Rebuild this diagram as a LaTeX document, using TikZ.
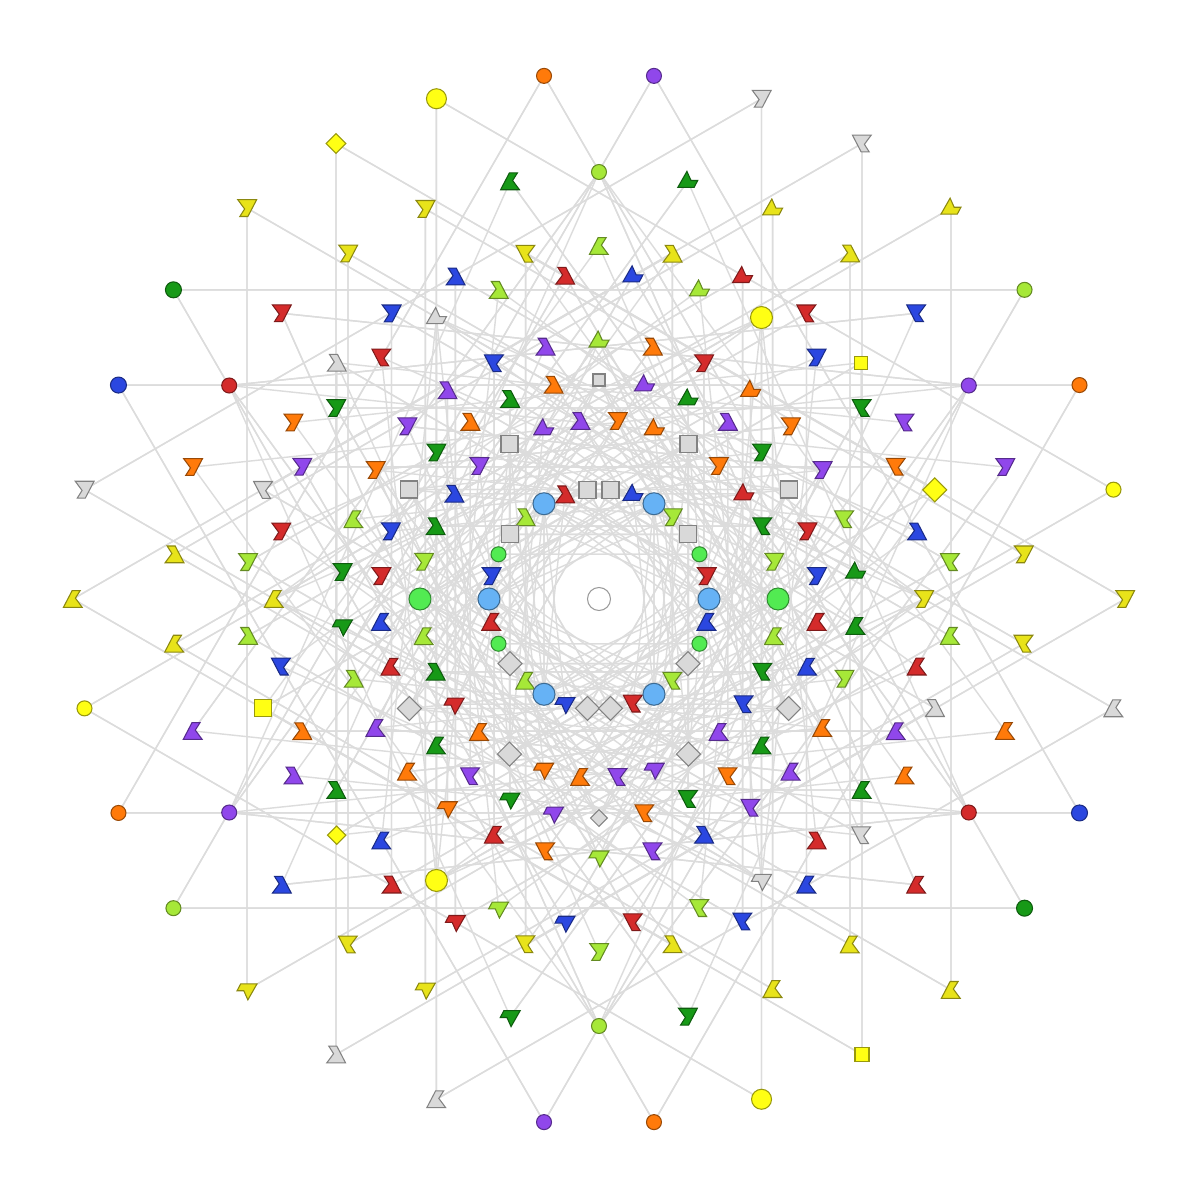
\documentclass[tikz,border=0pt]{standalone}
\definecolor{cYel}{HTML}{FFFF14}
\definecolor{cYef}{HTML}{E8E31A}
\definecolor{cOra}{HTML}{FF7A0A}
\definecolor{cPur}{HTML}{9047EB}
\definecolor{cGrn}{HTML}{179917}
\definecolor{cLim}{HTML}{A6E838}
\definecolor{cRed}{HTML}{D42B2B}
\definecolor{cBlu}{HTML}{2B47E0}
\definecolor{cGry}{HTML}{D9D9D9}
\definecolor{cLbl}{HTML}{66B2F5}
\definecolor{cBgr}{HTML}{52EB52}
\definecolor{cLine}{HTML}{DCDCDC}
\tikzset{
  flagA/.pic={\path[pic actions, scale=1.2] (-0.08,-0.07) -- (0.077,-0.07) -- (0.02,0.007) -- (0.06,0.07) -- (-0.007,0.07) -- cycle;},
  flagB/.pic={\path[pic actions, scale=1.2] (-0.007,0.083) -- (0.027,0.007) -- (0.083,0.007) -- (0.053,-0.05) -- (-0.083,-0.05) -- cycle;}
}
% ring/angle/axis/shape/colour/size/xscale/yscale
\def\rootlist{
1/0/0/3/cYef/0/-1/-1, 1/12/0/0/cYel/15/1/1, 1/24/30/0/cOra/15/1/1, 1/36/30/0/cLim/15/1/1,
1/48/0/4/cYef/0/1/1, 1/60/0/3/cGry/0/1/-1, 1/72/0/3/cGry/0/-1/-1, 1/84/90/0/cPur/15/1/1,
1/96/90/0/cOra/15/1/1, 1/108/0/0/cYel/20/1/1, 1/120/0/2/cYel/14/1/1, 1/132/0/3/cYef/0/-1/-1,
1/144/150/0/cGrn/16/1/1, 1/156/150/0/cBlu/16/1/1, 1/168/0/3/cGry/0/-1/-1,
2/6/0/3/cYef/0/-1/-1, 2/18/24/3/cPur/0/-1/-1, 2/30/24/0/cPur/15/1/1, 2/42/36/3/cBlu/0/1/-1,
2/54/0/3/cYef/0/-1/1, 2/66/0/4/cYef/0/1/1, 2/78/84/4/cGrn/0/1/1, 2/90/84/0/cLim/15/1/1,
2/102/96/3/cGrn/0/1/1, 2/114/0/3/cYef/0/-1/-1, 2/126/0/3/cYef/0/-1/-1, 2/138/144/3/cRed/0/-1/-1,
2/150/156/0/cRed/15/1/1, 2/162/156/3/cOra/0/-1/-1, 2/174/0/3/cYef/0/-1/1,
3/6/0/3/cLim/0/1/-1, 3/18/0/2/cYel/17/1/1, 3/30/24/3/cPur/0/1/-1, 3/42/0/1/cYel/13/1/1,
3/54/60/3/cRed/0/1/-1, 3/66/60/4/cRed/0/1/1, 3/78/0/3/cYef/0/-1/1, 3/90/84/3/cLim/0/1/1,
3/102/0/3/cYef/0/1/-1, 3/114/120/3/cBlu/0/-1/1, 3/126/120/3/cBlu/0/-1/-1, 3/138/0/3/cGry/0/-1/1,
3/150/156/3/cOra/0/-1/-1, 3/162/0/3/cGry/0/1/-1, 3/174/180/3/cLim/0/-1/-1,
4/0/0/3/cYef/0/-1/-1, 4/12/6/3/cBlu/0/-1/1, 4/24/30/3/cOra/0/1/-1, 4/36/30/3/cGrn/0/1/-1,
4/48/54/3/cBlu/0/-1/-1, 4/60/0/0/cYel/22/1/1, 4/72/66/4/cLim/0/1/1, 4/84/90/4/cBlu/0/1/1,
4/96/90/3/cRed/0/-1/1, 4/108/114/3/cLim/0/-1/1, 4/120/0/4/cGry/0/1/1, 4/132/126/3/cRed/0/1/-1,
4/144/150/3/cGrn/0/-1/-1, 4/156/150/3/cPur/0/-1/-1, 4/168/174/3/cRed/0/-1/-1,
5/6/0/4/cGrn/0/1/1, 5/18/24/3/cLim/0/1/-1, 5/30/24/3/cPur/0/-1/-1, 5/42/36/3/cOra/0/-1/-1,
5/54/60/4/cOra/0/1/1, 5/66/60/3/cRed/0/-1/-1, 5/78/84/3/cOra/0/-1/1, 5/90/84/4/cLim/0/1/1,
5/102/96/3/cPur/0/-1/1, 5/114/120/3/cBlu/0/1/-1, 5/126/120/3/cPur/0/-1/1, 5/138/144/3/cPur/0/-1/-1,
5/150/156/3/cOra/0/-1/-1, 5/162/156/3/cLim/0/1/1, 5/174/180/3/cGrn/0/-1/-1,
6/6/0/3/cBlu/0/-1/-1, 6/18/24/3/cRed/0/-1/-1, 6/30/30/1/cGry/17/1/1, 6/42/36/3/cGrn/0/-1/-1,
6/54/60/3/cPur/0/-1/1, 6/66/60/4/cGrn/0/1/1, 6/78/84/4/cPur/0/1/1, 6/90/30/1/cGry/12/1/1,
6/102/96/3/cOra/0/-1/1, 6/114/120/3/cGrn/0/-1/1, 6/126/120/3/cOra/0/-1/1, 6/138/144/3/cGrn/0/-1/-1,
6/150/30/1/cGry/17/1/1, 6/162/156/3/cBlu/0/-1/-1, 6/174/180/3/cRed/0/-1/-1,
7/0/0/0/cBgr/22/1/1, 7/12/6/3/cLim/0/-1/-1, 7/24/30/3/cGrn/0/1/-1, 7/36/30/4/cRed/0/1/1,
7/48/54/3/cOra/0/-1/-1, 7/60/0/1/cGry/17/1/1, 7/72/66/4/cOra/0/1/1, 7/84/90/3/cOra/0/-1/-1,
7/96/90/3/cPur/0/-1/1, 7/108/114/4/cPur/0/1/1, 7/120/0/1/cGry/17/1/1, 7/132/126/3/cPur/0/-1/-1,
7/144/150/3/cBlu/0/-1/1, 7/156/150/3/cGrn/0/-1/1, 7/168/174/3/cLim/0/-1/-1,
8/0/0/0/cLbl/22/1/1, 8/12/6/3/cRed/0/-1/-1, 8/24/30/0/cBgr/15/1/1, 8/36/30/1/cGry/17/1/1,
8/48/54/3/cLim/0/-1/-1, 8/60/0/0/cLbl/22/1/1, 8/72/66/4/cBlu/0/1/1, 8/84/30/1/cGry/17/1/1,
8/96/30/1/cGry/17/1/1, 8/108/114/3/cRed/0/-1/1, 8/120/0/0/cLbl/22/1/1, 8/132/126/3/cLim/0/-1/1,
8/144/30/1/cGry/17/1/1, 8/156/150/0/cBgr/15/1/1, 8/168/174/3/cBlu/0/-1/-1}
\begin{document}
\begin{tikzpicture}[
  chord/.style={draw=cLine, line width=0.4pt},
  mk/.style={draw=#1!60!black, fill=#1, line width=0.3pt, inner sep=0pt, outer sep=0pt}]
\fill[white] (-5.99,-6.01) rectangle (6.01,5.99);
\useasboundingbox (-5.99,-6.01) rectangle (6.01,5.99);
% every root and its negative
\foreach \r/\a/\t/\s/\c/\z/\sx/\sy in \rootlist {
  \pgfmathsetmacro{\rad}{{5.26,4.27,3.53,3.25,2.58,2.19,1.79,1.10}[\r-1]}
  \pgfmathtruncatemacro{\na}{Mod(\a+180,360)}
  \coordinate (p\r-\a) at (\a:\rad);
  \coordinate (p\r-\na) at (\a+180:\rad);
}
% chords to the mirror images
\foreach \r/\a/\t/\s/\c/\z/\sx/\sy in \rootlist {
  \pgfmathtruncatemacro{\na}{Mod(\a+180,360)}
  \pgfmathtruncatemacro{\f}{\t+60*round((\a-\t)/60)}
  \pgfmathtruncatemacro{\ba}{Mod(2*\f+120-\a,360)}
  \pgfmathtruncatemacro{\bb}{Mod(2*\f+240-\a,360)}
  \pgfmathtruncatemacro{\nba}{Mod(\ba+180,360)}
  \pgfmathtruncatemacro{\nbb}{Mod(\bb+180,360)}
  \draw[chord] (p\r-\a) -- (p\r-\ba) (p\r-\a) -- (p\r-\bb)
               (p\r-\na) -- (p\r-\nba) (p\r-\na) -- (p\r-\nbb);
}
% marks
\foreach \r/\a/\t/\s/\c/\z/\sx/\sy in \rootlist {
  \pgfmathtruncatemacro{\na}{Mod(\a+180,360)}
  \pgfmathsetmacro{\nsx}{-\sx}
  \pgfmathsetmacro{\nsy}{-\sy}
  \ifcase\s
    \node[mk=\c, circle, minimum size=\z*0.1mm] at (p\r-\a) {};
    \node[mk=\c, circle, minimum size=\z*0.1mm] at (p\r-\na) {};
  \or
    \node[mk=\c, minimum size=\z*0.1mm] at (p\r-\a) {};
    \node[mk=\c, minimum size=\z*0.1mm, rotate=45] at (p\r-\na) {};
  \or
    \node[mk=\c, minimum size=\z*0.1mm, rotate=45] at (p\r-\a) {};
    \node[mk=\c, minimum size=\z*0.1mm] at (p\r-\na) {};
  \or
    \pic[mk=\c, xscale=\sx, yscale=\sy] at (p\r-\a) {flagA};
    \pic[mk=\c, xscale=\nsx, yscale=\nsy] at (p\r-\na) {flagA};
  \or
    \pic[mk=\c, xscale=\sx, yscale=\sy] at (p\r-\a) {flagB};
    \pic[mk=\c, xscale=\nsx, yscale=\nsy] at (p\r-\na) {flagB};
  \fi
}
\node[mk=white, circle, minimum size=2.3mm] (ctr) at (0,0) {};
\end{tikzpicture}
\end{document}
